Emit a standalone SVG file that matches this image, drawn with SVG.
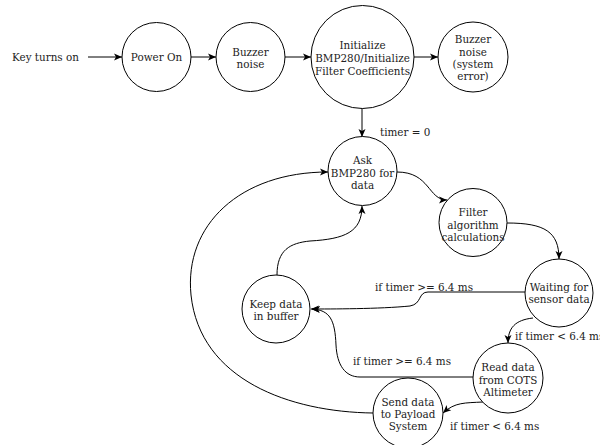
<svg xmlns="http://www.w3.org/2000/svg" width="600" height="445" viewBox="0 0 600 445">
<defs>
<marker id="arr" markerWidth="9" markerHeight="8" refX="8" refY="4" orient="auto" markerUnits="userSpaceOnUse">
<path d="M0,0.5 L8,4 L0,7.5 L2,4 Z" fill="#000"/>
</marker>
<style>
.n circle{fill:#fff;stroke:#000;stroke-width:1}
text{font-size:10.4px;fill:#222;text-anchor:middle;dominant-baseline:central}
.lbl{text-anchor:start}
#edges path{fill:none;stroke:#000;stroke-width:1;marker-end:url(#arr)}
</style>
</defs>
<rect width="600" height="445" fill="#fff"/>
<g id="edges">
<path d="M88,57 L122,57"/>
<path d="M191,57 L216,57"/>
<path d="M285,57 L311,57"/>
<path d="M414,57 L438,57"/>
<path d="M362,108 L362,137"/>
<path d="M397,172 C430,172 428,200 447,200"/>
<path d="M507,223 C545,223 559,232 559,259"/>
<path d="M525,292 L428,292 C418,292 422,304 410,306 C380,309 330,309 311,309"/>
<path d="M533,318 C515,320 508,328 508,343"/>
<path d="M473,377 L360,377 C345,377 337,365 336,345 C335,320 330,310 312,309"/>
<path d="M483,402 C465,403 455,402 443,413"/>
<path d="M373,413 C290,412 200,380 191,295 C184,225 240,172 328,172"/>
<path d="M277,275 C277,250 290,243 310,241 C345,239 362,232 362,206"/>
</g>
<g font-family="DejaVu Serif, serif">
<text class="lbl" x="12" y="57">Key turns on</text>
<g id="power" class="n"><circle cx="156.5" cy="57" r="34.5"/><text x="156.5" y="57">Power On</text></g>
<g id="buzzer" class="n"><circle cx="250.5" cy="57" r="34.5"/><text x="250.5" y="52">Buzzer</text><text x="250.5" y="64">noise</text></g>
<g id="init" class="n"><circle cx="362.5" cy="57" r="51.5"/><text x="362.5" y="45">Initialize</text><text x="362.5" y="58">BMP280/Initialize</text><text x="362.5" y="71">Filter Coefficients</text></g>
<g id="error" class="n"><circle cx="473" cy="57" r="35"/><text x="473" y="39">Buzzer</text><text x="473" y="51.5">noise</text><text x="473" y="64">(system</text><text x="473" y="76">error)</text></g>
<g id="ask" class="n"><circle cx="362.5" cy="171" r="34.5"/><text x="362.5" y="160">Ask</text><text x="362.5" y="172.5">BMP280 for</text><text x="362.5" y="185">data</text></g>
<g id="filter" class="n"><circle cx="473" cy="222.5" r="34"/><text x="473" y="212">Filter</text><text x="473" y="224.5">algorithm</text><text x="473" y="237">calculations</text></g>
<g id="waiting" class="n"><circle cx="559" cy="293" r="34"/><text x="559" y="287">Waiting for</text><text x="559" y="299">sensor data</text></g>
<g id="keep" class="n"><circle cx="276" cy="309" r="34"/><text x="276" y="304">Keep data</text><text x="276" y="316">in buffer</text></g>
<g id="read" class="n"><circle cx="508" cy="378" r="35"/><text x="508" y="367">Read data</text><text x="508" y="379.5">from COTS</text><text x="508" y="392">Altimeter</text></g>
<g id="send" class="n"><circle cx="408" cy="413" r="35"/><text x="408" y="402">Send data</text><text x="408" y="414">to Payload</text><text x="408" y="426">System</text></g>
<text class="lbl" x="380" y="132">timer = 0</text>
<text class="lbl" x="375" y="287">if timer &gt;= 6.4 ms</text>
<text class="lbl" x="515" y="336">if timer &lt; 6.4 ms</text>
<text class="lbl" x="353" y="361">if timer &gt;= 6.4 ms</text>
<text class="lbl" x="450" y="426">if timer &lt; 6.4 ms</text>
</g>
</svg>
